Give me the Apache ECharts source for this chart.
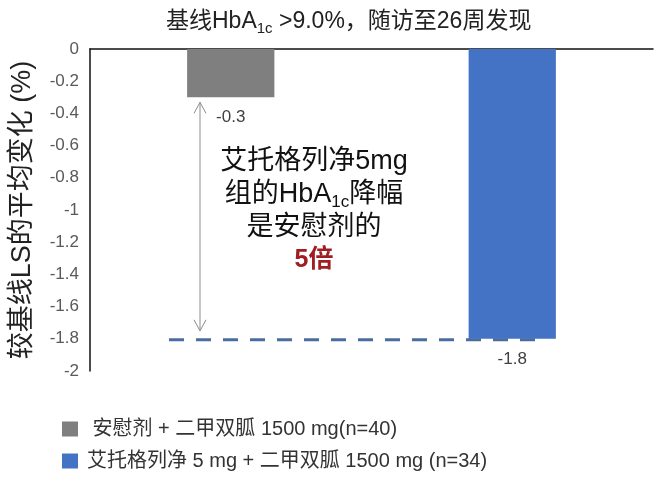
<!DOCTYPE html>
<html>
<head>
<meta charset="utf-8">
<script src="https://cdn.jsdelivr.net/npm/echarts@6/dist/echarts.min.js"></script>
<style>
  html, body { margin: 0; padding: 0; background: #fff; }
  #main { width: 660px; height: 487px; }
</style>
</head>
<body>
<div id="main"></div>
<script>
// chart data
var categories = ['安慰剂', '艾托格列净'];
var seriesNames = [' 安慰剂 + 二甲双胍 1500 mg(n=40)', '艾托格列净 5 mg + 二甲双胍 1500 mg (n=34)'];
var seriesValues = [-0.3, -1.8];
var seriesColors = ['#7f7f7f', '#4472c4'];
var yMin = -2, yMax = 0, yStep = 0.2;

var FONT = '"Liberation Sans", "Noto Sans CJK SC", sans-serif';

var chart = echarts.init(document.getElementById('main'));

var series = seriesNames.map(function (name, i) {
    var data = categories.map(function (c, j) { return j === i ? seriesValues[i] : '-'; });
    return {
        name: name,
        type: 'bar',
        stack: 'grp',
        barWidth: '31%',
        itemStyle: { color: seriesColors[i] },
        label: {
            show: true,
            position: 'bottom',
            distance: 12,
            fontFamily: FONT,
            fontSize: 17,
            color: '#404040',
            formatter: '{c}'
        },
        data: data
    };
});

var option = {
    animation: false,
    textStyle: { fontFamily: FONT },
    title: {
        left: 161,
        top: 2,
        text: '{t|基线HbA}{s|1c}{t| >9.0%，随访至26周发现}',
        textStyle: {
            fontWeight: 'normal',
            rich: {
                t: { fontFamily: FONT, fontSize: 23, fontWeight: 'normal', color: '#222', lineHeight: 29 },
                s: { fontFamily: FONT, fontSize: 15, fontWeight: 'normal', color: '#222', lineHeight: 15, verticalAlign: 'bottom', padding: [9, 0, 0, 0] }
            }
        }
    },
    legend: {
        orient: 'vertical',
        left: 57,
        top: 414,
        itemWidth: 16,
        itemHeight: 15,
        itemGap: 12,
        icon: 'rect',
        textStyle: { fontFamily: FONT, fontSize: 20, color: '#333', padding: [0, 0, 0, 4] },
        data: seriesNames
    },
    grid: { left: 90, right: 7, top: 49, bottom: 116 },
    xAxis: {
        type: 'category',
        data: categories,
        position: 'top',
        axisLine: { show: true, lineStyle: { color: '#111', width: 1.5 } },
        axisTick: { show: false },
        axisLabel: { show: false }
    },
    yAxis: {
        type: 'value',
        min: yMin,
        max: yMax,
        interval: yStep,
        name: '较基线LS的平均变化 (%)',
        nameLocation: 'middle',
        nameGap: 54,
        nameTextStyle: { fontFamily: FONT, fontSize: 27, color: '#222' },
        axisLine: { show: true, lineStyle: { color: '#111', width: 1.5 } },
        axisTick: { show: false },
        splitLine: { show: false },
        axisLabel: { fontFamily: FONT, fontSize: 17, color: '#595959', margin: 11 }
    },
    series: series
};

chart.setOption(option);

// annotations positioned from the axis scale
var yA = chart.convertToPixel({ yAxisIndex: 0 }, seriesValues[0]);
var yB = chart.convertToPixel({ yAxisIndex: 0 }, seriesValues[1]);
var ax = 200;

chart.setOption({
    graphic: [
        {
            type: 'line', z: 10,
            shape: { x1: ax, y1: yA + 5, x2: ax, y2: yB - 8 },
            style: { stroke: '#8c8c8c', lineWidth: 1 }
        },
        {
            type: 'polyline', z: 10,
            shape: { points: [[ax - 6, yA + 16], [ax, yA + 5], [ax + 6, yA + 16]] },
            style: { stroke: '#8c8c8c', lineWidth: 1, fill: null }
        },
        {
            type: 'polyline', z: 10,
            shape: { points: [[ax - 6, yB - 19], [ax, yB - 8], [ax + 6, yB - 19]] },
            style: { stroke: '#8c8c8c', lineWidth: 1, fill: null }
        },
        {
            type: 'line', z: 10,
            shape: { x1: 169, y1: yB + 1, x2: 542, y2: yB + 1 },
            style: { stroke: '#4a6c9f', lineWidth: 3, lineDash: [15, 12] }
        },
        {
            type: 'text', z: 10,
            style: {
                x: 314,
                y: 145,
                align: 'center',
                text: '{t|艾托格列净5mg}\n{t|组的HbA}{s|1c}{t|降幅}\n{t|是安慰剂的}\n{r|5倍}',
                rich: {
                    t: { fontFamily: FONT, fontSize: 27, fill: '#111', lineHeight: 33 },
                    s: { fontFamily: FONT, fontSize: 17, fill: '#111', lineHeight: 17, verticalAlign: 'bottom', padding: [10, 0, 0, 0] },
                    r: { fontFamily: FONT, fontSize: 25, fontWeight: 'bold', fill: '#a01e22', lineHeight: 33 }
                }
            }
        }
    ]
});
</script>
</body>
</html>
